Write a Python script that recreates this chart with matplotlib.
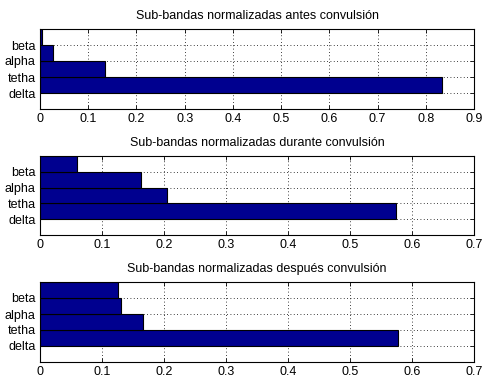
import numpy as np
import matplotlib.pyplot as plt

# normalized sub-band energy for each stage of the seizure
bands = ['delta', 'tetha', 'alpha', 'beta']
antes = [0.833, 0.135, 0.026, 0.0035]
durante = [0.574, 0.205, 0.163, 0.060]
despues = [0.578, 0.166, 0.130, 0.126]

titles = ['Sub-bandas normalizadas antes convulsión',
          'Sub-bandas normalizadas durante convulsión',
          'Sub-bandas normalizadas después convulsión']
xlims = [0.9, 0.7, 0.7]

plt.rcParams['font.family'] = ['Liberation Sans', 'DejaVu Sans']
plt.rcParams['font.size'] = 9

fig = plt.figure(figsize=(4.85, 3.8), dpi=100)
W, H = 485.0, 380.0
# axes boxes in pixels: left, top, right, bottom
boxes = [(40, 29, 474, 109), (40, 156, 474, 235), (40, 282, 474, 362)]

pos = np.arange(1, len(bands) + 1)
for data, title, xmax, (l, t, r, b) in zip([antes, durante, despues], titles, xlims, boxes):
    ax = fig.add_axes([l / W, 1 - b / H, (r - l) / W, (b - t) / H])
    ax.barh(pos, data, height=1.0, align='edge', color='#00008F',
            edgecolor='black', linewidth=0.8)
    ax.set_xlim(0, xmax)
    ax.set_ylim(0, 5)
    ax.set_xticks(np.arange(0, xmax + 0.01, 0.1))
    ax.set_xticklabels(['0'] + ['%.1f' % v for v in np.arange(0.1, xmax + 0.01, 0.1)])
    ax.set_yticks(pos)
    ax.set_yticklabels(bands)
    ax.set_axisbelow(True)
    ax.grid(True, color='black', linestyle=(0, (1, 3)), linewidth=0.6)
    ax.tick_params(direction='in', top=True, right=True, length=3,
                   width=0.6, pad=3, labelsize=9)
    for s in ax.spines.values():
        s.set_linewidth(0.8)
    ax.set_title(title, fontsize=9, pad=7)

plt.savefig('out.png', dpi=100)
